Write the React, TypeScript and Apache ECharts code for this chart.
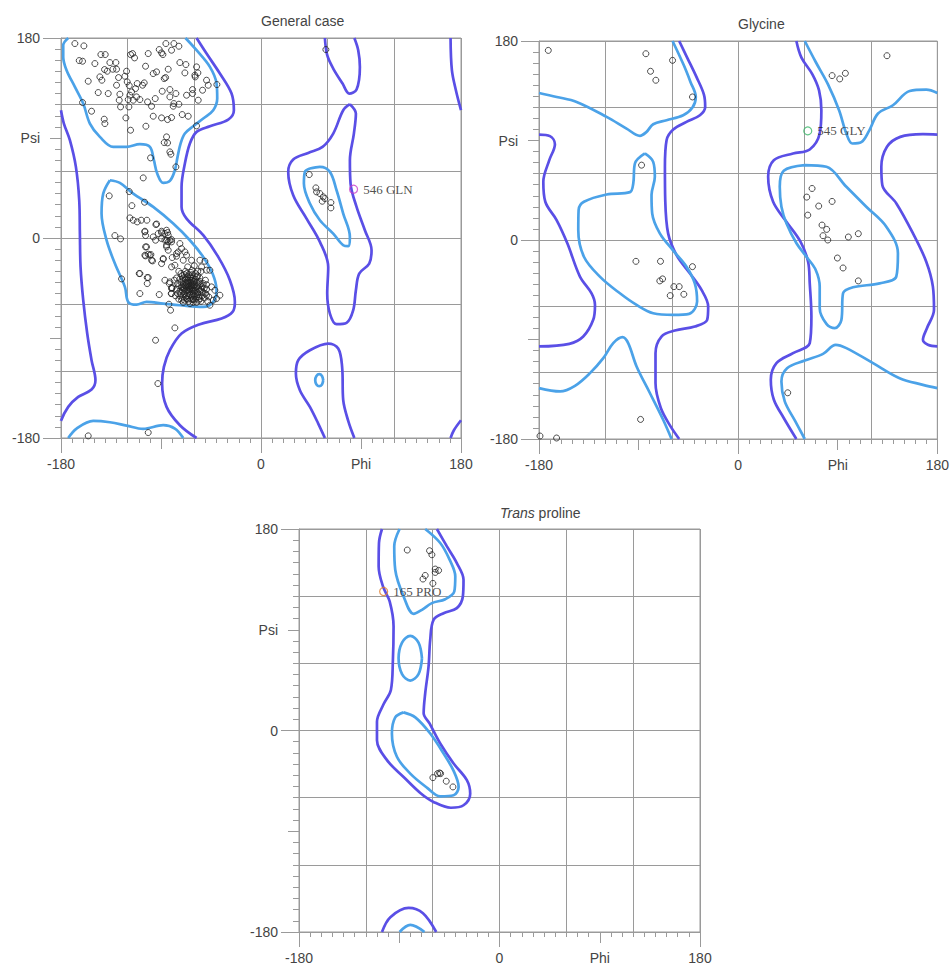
import React, { useEffect, useRef } from "react";
import * as echarts from "echarts";

// ---------- scatter data (phi, psi) ----------
const generalPoints: number[][] = [
  [-167.5,175],[-159.4,172.9],[-163.6,159.7],[-160.6,159.1],[-144.1,165.1],[-140.2,165.1],[-149.5,157],[-136,157.9],[-130.6,157.9],[-155.5,141.1],[-145,145],[-143.2,142],[-140.8,151.6],[-138.4,150.1],[-133.3,151.9],[-130,151.9],[-117.4,165.1],[-115.6,166],[-113.8,162.1],[-101.5,166],[-91.6,169.6],[-89.5,166.6],[-85.6,175],[-78.4,175],[-73.9,172.6],[-80.5,169],[-88.3,165.1],[-103.9,154.6],[-94,149.5],[-97,148],[-87.1,143.5],[-85.9,144.4],[-83.5,151.9],[-73,157.9],[-67.6,156.1],[-68.5,148.6],[-58,154],[-59.2,145],[-56.8,148.6],[-59.5,146.5],[-49,142],[-39.7,138.1],[-47.5,137.5],[-52.6,133],[-61.6,133.6],[-61.6,130],[-56.5,124],[-67,128.5],[-76.6,130],[-82,133.6],[-82,127],[-78.4,121],[-73.9,120.4],[-79,118.6],[-70.9,111.1],[-65.5,109.6],[-88.9,132.1],[-95.2,125.5],[-98.5,118.6],[-102.1,122.5],[-109,124.6],[-112,127],[-112.9,134.5],[-106.6,137.5],[-105.1,139.6],[-111.4,139],[-118.6,137.2],[-120.4,140.5],[-122.5,145.6],[-121,150.1],[-128.2,144.4],[-130,137.5],[-127,129.4],[-127.6,124],[-126.4,118],[-118.9,118],[-119.5,124.6],[-115,124],[-118,128.5],[-116.5,131.5],[-137.5,130],[-146.5,130.9],[-160.6,121.9],[-152.5,114.1],[-141.1,106.9],[-140.5,103],[-121.6,108.1],[-117.4,97],[-103.6,100.6],[-97,109.6],[-89.5,108.1],[-84.1,106.6],[-80.5,108.4],[-58,100.9],[-85,91],[-87.1,85.9],[-84.1,85.6],[-82,77.5],[-81.1,75.4],[-99.4,72.1],[-76.6,64],[-106,54.1],[-118.6,41.8],[-136.6,37.9],[-116.2,29.1],[-104.8,32.2],[-118,18.1],[-115,16],[-111.4,14.5],[-107.8,16],[-102.7,16],[-94.6,12.1],[-104.5,6.1],[-103.9,2.2],[-89.5,6.1],[-84.1,4.9],[-80.5,-1.4],[-131.5,2.2],[-126.4,-0.8],[-94.9,-2],[-85,-2],[-103.9,-8],[-85,-8],[-103.9,-16.1],[-99.1,-14.9],[-97.6,-20.6],[-88,-19.1],[-79.9,-17.6],[-76,-14],[-109,-32],[-102.4,-35.6],[-102.4,-41],[-125.5,-36.8],[-109,-50],[-91.6,-50.9],[-82.6,-41],[-80.2,-44.6],[-80.8,-50],[-82.9,-59.6],[-81.4,-65],[-77.5,-80.9],[-94.9,-92],[-92.8,-131],[-155.5,-178.1],[-101.5,-175.1],[58.4,169.6],
  [43.4,57.1],[49.4,45.1],[50,41.5],[53,40],[56,37],[55.1,33.1],[57.5,35.5],[62.9,31.9],[62.9,27.1],
  [-94,12.6],[-89.5,4.6],[-92.5,4],[-86.5,4],[-85,7],[-83.5,2.5],[-82,-2],[-83.5,-3.5],[-80.5,-3.5],[-86.5,-2],[-89.5,-0.5],[-97,1],[-85,-6.5],[-83.5,-11],[-104.5,5.5],[-103,-8],[-100,-15.5],[-98.5,-20],[-88,-18.5],[-89.5,-23],[-104.5,-15.5],[-101.5,-14.6],[-109.6,-32],[-101.5,-35.6],
];

const generalHelix: number[][] = [
  [-66,-40],[-62,-42],[-64,-38],[-60,-45],[-68,-43],[-70,-38],[-58,-40],[-63,-46],[-67,-47],[-61,-36],[-65,-33],[-72,-44],[-56,-46],[-59,-50],[-64,-51],[-69,-50],[-73,-48],[-75,-41],[-71,-34],[-68,-30],[-62,-29],[-57,-34],[-55,-39],[-53,-44],[-52,-49],[-56,-53],[-61,-55],[-66,-55],[-71,-54],[-76,-46],[-78,-38],[-74,-30],[-66,-26],[-60,-25],[-54,-30],[-50,-38],[-49,-46],[-51,-54],[-58,-58],[-64,-59],[-70,-58],[-62,-33],[-67,-36],[-63,-44],[-65,-48],[-60,-48],[-57,-43],[-69,-46],[-72,-40],[-66,-43],[-61,-39],[-59,-37],[-64,-35],[-70,-42],[-55,-48],[-62,-52],[-67,-52],[-58,-53],[-53,-52],[-50,-50],[-47,-53],[-48,-57],[-54,-57],[-77,-52],[-80,-45],[-74,-55],[-65,-44],[-63,-40],[-60,-42],[-68,-40],[-61,-47],[-57,-49],[-66,-50],[-71,-47],[-73,-37],[-69,-33],[-59,-32],[-55,-42],
  [-63,-42],[-65,-41],[-61,-43],[-67,-44],[-64,-46],[-62,-48],[-66,-38],[-60,-39],[-68,-37],[-63,-36],[-70,-45],[-58,-44],[-59,-47],[-65,-52],[-69,-48],[-72,-50],[-57,-51],[-54,-46],[-56,-40],[-61,-51],[-67,-41],[-64,-43],[-62,-45],[-66,-47],[-60,-52],[-63,-55],[-68,-53],[-71,-44],[-74,-43],[-58,-35],[-62,-38],[-66,-35],[-70,-36],[-55,-36],[-52,-41],[-51,-45],[-53,-48],[-49,-42],[-75,-50],[-73,-52],[-59,-55],[-56,-56],[-65,-57],[-69,-56],[-61,-58],[-63,-31],[-67,-32],[-57,-30],[-72,-32],[-76,-36],
  [-73,-5],[-71.5,-9.5],[-74.5,-12.5],[-68.5,-12.5],[-67,-15.5],[-76,-16.4],[-70,-20],[-62.5,-20],[-55,-20],[-50.5,-20.9],[-77.5,-24.5],[-80.5,-26],[-53.5,-26],[-49,-29],[-46,-29],[-86.5,-38],[-82,-39.5],[-80.5,-45.5],[-80.5,-50],[-71.5,-56],[-67,-54.5],[-61,-55.4],[-55,-54.5],[-49,-51.5],[-46,-60.5],[-43,-56],[-37,-51.5],[-40,-54.5],[-44.5,-44],[-41.5,-47],
];

const glycinePoints: number[][] = [
  [-171.6,171.5],[-83.4,168.5],[-59.3,162.5],[-79.2,152.6],[-74.4,144.5],[-41.3,129.4],[-87.3,67.7],[-92.4,-19.3],[-70.2,-19.3],[-41.3,-24.1],[-70.8,-37],[-68.3,-35.2],[-58.1,-42.2],[-53.3,-42.2],[-61.4,-50.3],[-49.1,-49.1],[-88.2,-162.3],[-179.1,-177.3],[-164.1,-179.1],
  [84.9,148.7],[91.8,145.7],[96.9,150.8],[134.5,166.7],[66.8,46.6],[62,38.8],[84.9,34.9],[72.8,30.7],[62.9,22.5],[75.8,13.5],[80,9.6],[76.7,3.9],[81,0],[99.6,2.7],[108.6,5.7],[89.7,-16.3],[94.8,-25.3],[108.6,-37],[44.8,-138.2],
];

const prolinePoints: number[][] = [
  [-82.8,161.2],[-62.8,160.6],[-60.7,157],[-57.7,144.2],[-54.7,143],[-57.7,141.2],[-66.7,138.5],[-68.7,135.3],[-59.8,131.4],
  [-59.8,-42.1],[-55.6,-38.5],[-53.8,-37.9],[-52.9,-38.5],[-47.8,-45.3],[-41.8,-50.4],
];

const generalFlag = { value: [83.3, 43.9], name: "546 GLN" };
const glycineFlag = { value: [62.9, 98.7], name: "545 GLY" };
const prolineFlag = { value: [-104, 124.2], name: "165 PRO" };

// ---------- contour lines (phi, psi) ----------
// General case
const genFavBeta = [[-173.5,180],[-178,173.5],[-178,163],[-175,151],[-167.5,136],[-160,121],[-154,103],[-145,91],[-133,82],[-121,82],[-109,84.4],[-100,82],[-96.4,70],[-93.4,58],[-88,49.6],[-82,51.4],[-77.5,61],[-75.1,73],[-72.4,85],[-68.5,94],[-61,100.6],[-52,107.5],[-43,115],[-39.4,125.5],[-40,139],[-46,154],[-58,169],[-68,180]];
const genFavAlpha = [[-136,52],[-142,40],[-143.5,22],[-139,-2],[-131.5,-23],[-122.5,-44],[-119.5,-57.5],[-112,-60],[-103,-57.5],[-88,-59],[-73,-60.5],[-52,-62],[-43,-57.5],[-40,-47],[-43.6,-32],[-52,-17],[-64,-2],[-79,13],[-97,28],[-115,40],[-127,49.6],[-136,52]];
const genFavBottom = [[-173.5,-180],[-166,-171.5],[-151,-164.6],[-136,-165.8],[-121,-168.8],[-106,-171.8],[-88,-168.5],[-77.5,-171.5],[-70,-180]];
const genFavLalpha = [[44,62.5],[53,64],[62,59.5],[68,43],[74,22],[80,1],[78.5,-7.4],[74,-6.5],[65,4],[53,16],[44,31],[38.6,49],[39.5,59.5],[44,62.5]];
const genFavSmall = [[56,-128],[54.9,-124.2],[52.4,-122.6],[49.9,-124.2],[48.8,-128],[49.9,-131.8],[52.4,-133.4],[54.9,-131.8],[56,-128]];
const genAllowMain = [[-58,180],[-49,166],[-37,148],[-26.5,130],[-24.4,115],[-29.5,106.6],[-46,100.6],[-58,95.5],[-64,85],[-68.5,67],[-71.5,46],[-71.5,28],[-67,17.5],[-52,2.5],[-38.5,-17],[-28,-38],[-23.5,-57.5],[-25.6,-66.5],[-35.5,-72.5],[-55,-77.6],[-71.5,-86],[-82,-101],[-87.4,-116],[-89,-131],[-85,-152],[-73,-168.5],[-58,-180]];
const genAllowLeft = [[-180,115],[-177.4,103],[-172,88],[-166.6,64],[-163.6,34],[-163,4],[-162.4,-26],[-160,-56],[-156.4,-86],[-152.5,-110],[-149,-128],[-152.5,-136.4],[-164.5,-143],[-173.5,-152],[-180,-164.6]];
const genAllowRightTop = [[170.6,180],[171.8,151],[175.4,133],[180,115]];
const genAllowRightBottom = [[180,-164],[173.6,-173],[170.6,-180]];
const genAllowLTop = [[57.5,180],[59.6,164.5],[65,152.5],[73.4,139],[79.4,130],[86,133.6],[89,154],[87.5,169],[84,180]];
const genAllowLMid = [[80,120.4],[85.4,112],[83.6,94],[80,70],[80.6,49],[86,28],[93.5,7],[99.5,-11],[97.4,-23],[88.4,-32],[85.4,-47],[83,-65],[77,-76.4],[68,-77.6],[62,-68],[59.6,-50],[60.5,-26],[53,-3.5],[41,17.5],[29,38.5],[24.5,59.5],[29,70.6],[42.5,76.6],[55.4,82],[65,94],[74,115],[80,120.4]];
const genAllowLBottom = [[57.5,-180],[51.5,-167],[44,-152],[35,-137],[31.4,-122],[33.5,-110],[44,-101],[60.5,-95],[69.5,-99.5],[73,-116],[74,-146],[78.5,-164.6],[84,-180]];

// Glycine
const glyFavTopLeft = [[-180,133],[-164,129.4],[-146,124.9],[-118.9,111.4],[-100.9,100.8],[-88.8,94.2],[-82.8,97.8],[-76.8,104.7],[-64.7,108.3],[-49.7,112.9],[-41.3,119.8],[-38.3,129.4],[-43.1,143],[-49.1,158],[-59.3,180]];
const glyAllowLeftCol = [[-53.3,180],[-46.1,165],[-37.7,147.5],[-31,131.8],[-29.8,120.4],[-34.6,112.9],[-46.7,106.8],[-58.7,99.9],[-64.7,90.3],[-66.2,66.2],[-65.9,36.1],[-63.3,6],[-55.7,-13.6],[-43.7,-30.1],[-33.1,-45.2],[-27.1,-60.2],[-28,-72.3],[-39.2,-78.3],[-57.2,-81.9],[-69.3,-87.3],[-74.7,-102.4],[-74.7,-129.4],[-69.9,-152],[-61.1,-168.6],[-53.3,-180]];
const glyFavMidLeft = [[-84.3,78.3],[-76.8,70.7],[-75.3,57.2],[-78.3,40.6],[-77.7,24.1],[-70.8,6],[-58.7,-9.6],[-46.7,-24.1],[-39.2,-39.2],[-37.1,-55.7],[-44.3,-66.8],[-58.7,-67.7],[-76.8,-66.2],[-91.8,-58.7],[-106.9,-48.2],[-125,-33.1],[-139.4,-15.1],[-144.5,9],[-144.2,27.1],[-139.4,34.6],[-118.9,41.2],[-97.8,43.3],[-94.8,51.2],[-93.3,69.2],[-84.3,78.3]];
const glyAllowLeftEdge = [[-180,95.4],[-170.1,93.9],[-165.6,86.7],[-170.7,72.2],[-176.1,52.7],[-174.3,34.6],[-164.1,18],[-154.4,-3],[-143,-33.1],[-132.5,-48.2],[-129.4,-58.7],[-131,-72.2],[-140,-87.3],[-152.6,-93.9],[-180,-96.3]];
const glyFavBottomLeft = [[-180,-134],[-161,-137],[-147.5,-131.9],[-133.9,-120.4],[-121.9,-106.9],[-112.9,-93.3],[-104.5,-87.9],[-99.4,-93.3],[-91.8,-114.4],[-79.8,-138.4],[-67.8,-162.6],[-60.2,-180]];
const glyAllowRightCol = [[52.6,180],[57.2,165],[67.1,149.9],[73.1,135.4],[75.2,117.4],[73.7,96.3],[64.7,81.9],[49.6,78.2],[32.2,72.2],[27.1,57.2],[31.6,34.6],[43.6,16.5],[56.3,-1.5],[63.2,-19.6],[64.7,-39.2],[66.2,-69.3],[64.7,-93.3],[49.6,-102.4],[34.6,-111.4],[29.5,-126.4],[32.2,-144.3],[41.2,-161],[52.6,-180]];
const glyFavTopRight = [[60.2,180],[70.1,161],[81.2,140.8],[91.2,117.4],[97.8,96.3],[103.2,87.3],[111.3,88.5],[118.3,98.7],[126.4,114.4],[139.9,121.9],[155,134.8],[170,136],[180,133]];
const glyFavMidRight = [[60.2,67.7],[79.8,66.2],[97.8,48.1],[115.8,30.1],[133.9,12],[144.4,-12],[142.9,-33.1],[127.9,-39.2],[103.8,-42.8],[94.8,-48.2],[93.3,-72.3],[87.3,-79.8],[79.8,-75.9],[73.7,-61.7],[73.7,-42.2],[70.1,-27.1],[61.7,-15.1],[52.7,-3],[43.6,15.1],[39.1,30.1],[37.6,48.1],[41.2,62.6],[60.2,67.7]];
const glyAllowRightEdge = [[180,95.4],[167,95.7],[146.5,93.3],[134.5,84.3],[129.4,66.2],[130.3,49.6],[143,33.1],[158,6],[170,-19.6],[176,-42.2],[177,-63.2],[170.6,-79.8],[167,-90.3],[171.5,-94.8],[180,-96.3]];
const glyFavBottomRight = [[60.2,-180],[51.2,-163.2],[42.1,-146],[39.1,-128],[44.2,-115.9],[60.2,-109],[76.7,-103],[88.2,-94.8],[97.8,-97.8],[121.9,-111.4],[145.9,-125],[167,-131],[180,-134]];

// Trans proline
const proAllowMain = [[-105.5,180],[-108.2,167.5],[-108.5,146.6],[-104.6,128.7],[-98.6,115.3],[-95.1,92.9],[-95.7,63],[-97.5,36.2],[-104,23.6],[-110,7.8],[-110,-8.6],[-101,-26.5],[-86.1,-41.5],[-71.1,-55.8],[-59.2,-63.8],[-43.6,-69],[-32.3,-66.8],[-26.3,-56.4],[-29.3,-44.4],[-41.2,-29.5],[-53.2,-11.6],[-62.8,6.3],[-68.1,15.3],[-66.7,33.2],[-63.7,57.1],[-62.2,80.9],[-59.2,98.8],[-50.2,104.8],[-38.3,109.3],[-32.9,119.7],[-32.3,134.7],[-38.3,149.6],[-47.2,164.5],[-56.2,180]];
const proFavTop = [[-89.7,180],[-94.5,164.5],[-93.6,143.6],[-86.1,119.7],[-77.1,104.2],[-69.6,107.8],[-60.7,113.8],[-48.7,117.3],[-40.6,124.2],[-39.7,137.6],[-44.8,152.6],[-53.2,167.5],[-66.7,180]];
const proFavMid = [[-69.6,64.5],[-72.7,78.6],[-80.1,84.5],[-87.5,78.6],[-90.6,64.5],[-87.5,50.4],[-80.1,44.5],[-72.7,50.4],[-69.6,64.5]];
const proFavAlpha = [[-86.1,16.2],[-75.6,11.7],[-62.2,-2.7],[-50.2,-20.6],[-41.2,-36.1],[-36.7,-50.4],[-41.2,-57.9],[-53.2,-58.8],[-65.2,-51],[-80.1,-38.5],[-92.1,-23.5],[-96.6,-2.6],[-93.6,11.7],[-86.1,16.2]];
const proAllowBottom = [[-105.5,-180],[-98,-166.8],[-81.6,-158.5],[-68.7,-163.2],[-56.8,-180]];
const proFavBottom = [[-89.7,-180],[-80.1,-173.7],[-67.3,-180]];

// ---------- axis tick labels ----------
const phiLabels: Record<number, string> = { [-180]: "-180", 0: "0", 90: "Phi", 180: "180" };
const psiLabels: Record<number, string> = { 180: "180", 90: "Psi", 0: "0", [-180]: "-180" };
const titles = ["General case", "Glycine", "{i|Trans} proline"];

const DARK = "#5a4fe6";
const LIGHT = "#4ba2e8";
const GRID_C = "#9a9a9a";
const TEXT_C = "#444";

const grids = [
  { left: 61, top: 38, width: 400, height: 400 },
  { left: 539, top: 41, width: 399, height: 398 },
  { left: 299, top: 529, width: 401, height: 403 },
];

function makeAxes(dim: "x" | "y", gi: number) {
  const pos = dim === "x" ? "bottom" : "left";
  const labels = dim === "x" ? phiLabels : psiLabels;
  const base = { type: "value", gridIndex: gi, min: -180, max: 180, position: pos };
  return [
    {
      ...base,
      interval: 60,
      axisLine: { show: true, onZero: false, lineStyle: { color: GRID_C } },
      axisTick: { show: true, length: dim === "x" ? 5 : 6, lineStyle: { color: GRID_C } },
      minorTick: { show: true, splitNumber: 6, length: dim === "x" ? 5 : 6, lineStyle: { color: GRID_C } },
      axisLabel: { show: false },
      splitLine: { show: true, lineStyle: { color: GRID_C, width: 1 } },
    },
    {
      ...base,
      interval: 90,
      axisLine: { show: false, onZero: false },
      axisTick: { show: true, length: 11, lineStyle: { color: GRID_C } },
      axisLabel: {
        show: true,
        margin: dim === "x" ? 19 : 21,
        showMinLabel: true,
        showMaxLabel: true,
        color: TEXT_C,
        fontSize: 14,
        fontFamily: "Liberation Sans",
        formatter: (v: number) => labels[v] ?? "",
      },
      splitLine: { show: false },
    },
    {
      ...base,
      interval: 180,
      axisLine: { show: false, onZero: false },
      axisTick: { show: true, length: dim === "x" ? 15 : 18, lineStyle: { color: GRID_C } },
      axisLabel: { show: false },
      splitLine: { show: false },
    },
  ];
}

function contour(data: number[][], color: string, gi: number) {
  return {
    type: "line",
    xAxisIndex: gi * 3,
    yAxisIndex: gi * 3,
    data,
    smooth: 0.35,
    symbol: "none",
    silent: true,
    clip: true,
    z: 2,
    lineStyle: { color, width: 2.7 },
  };
}

function dots(data: number[][], gi: number) {
  return {
    type: "scatter",
    xAxisIndex: gi * 3,
    yAxisIndex: gi * 3,
    data,
    symbol: "circle",
    symbolSize: 6,
    silent: true,
    z: 3,
    itemStyle: { color: "rgba(0,0,0,0)", borderColor: "#222", borderWidth: 1 },
  };
}

function flag(item: { value: number[]; name: string }, color: string, gi: number) {
  return {
    type: "scatter",
    xAxisIndex: gi * 3,
    yAxisIndex: gi * 3,
    data: [item],
    symbol: "circle",
    symbolSize: 8,
    silent: true,
    z: 4,
    itemStyle: { color: "rgba(0,0,0,0)", borderColor: color, borderWidth: 1.2 },
    label: {
      show: true,
      position: "right",
      distance: 5,
      formatter: "{b}",
      fontFamily: "Liberation Serif",
      fontSize: 13,
      color: "#222",
    },
  };
}

export default function App() {
  const ref = useRef<HTMLDivElement>(null);
  useEffect(() => {
    if (!ref.current) return;
    const chart = echarts.init(ref.current, null, { renderer: "svg" });
    const xAxis: any[] = [];
    const yAxis: any[] = [];
    for (let g = 0; g < 3; g++) {
      xAxis.push(...makeAxes("x", g));
      yAxis.push(...makeAxes("y", g));
    }
    const titleTops = [14, 17, 506];
    const titleLefts = [261, 738, 500];
    const option: any = {
      animation: false,
      backgroundColor: "#fff",
      title: titles.map((t, i) => ({
        text: t,
        left: titleLefts[i],
        top: titleTops[i],
        padding: 0,
        textStyle: {
          fontSize: 14,
          fontWeight: "normal",
          color: TEXT_C,
          fontFamily: "Liberation Sans",
          rich: { i: { fontStyle: "italic", fontSize: 14, color: TEXT_C, fontFamily: "Liberation Sans" } },
        },
      })),
      grid: grids.map((g) => ({ ...g, show: true, borderColor: GRID_C, borderWidth: 1, containLabel: false })),
      xAxis,
      yAxis,
      series: [
        contour(genAllowMain, DARK, 0),
        contour(genAllowLeft, DARK, 0),
        contour(genAllowRightTop, DARK, 0),
        contour(genAllowRightBottom, DARK, 0),
        contour(genAllowLTop, DARK, 0),
        contour(genAllowLMid, DARK, 0),
        contour(genAllowLBottom, DARK, 0),
        contour(genFavBeta, LIGHT, 0),
        contour(genFavAlpha, LIGHT, 0),
        contour(genFavBottom, LIGHT, 0),
        contour(genFavLalpha, LIGHT, 0),
        contour(genFavSmall, LIGHT, 0),
        dots(generalPoints, 0),
        dots(generalHelix, 0),
        flag(generalFlag, "#c83cc8", 0),

        contour(glyAllowLeftCol, DARK, 1),
        contour(glyAllowLeftEdge, DARK, 1),
        contour(glyAllowRightCol, DARK, 1),
        contour(glyAllowRightEdge, DARK, 1),
        contour(glyFavTopLeft, LIGHT, 1),
        contour(glyFavMidLeft, LIGHT, 1),
        contour(glyFavBottomLeft, LIGHT, 1),
        contour(glyFavTopRight, LIGHT, 1),
        contour(glyFavMidRight, LIGHT, 1),
        contour(glyFavBottomRight, LIGHT, 1),
        dots(glycinePoints, 1),
        flag(glycineFlag, "#3cb86a", 1),

        contour(proAllowMain, DARK, 2),
        contour(proAllowBottom, DARK, 2),
        contour(proFavTop, LIGHT, 2),
        contour(proFavMid, LIGHT, 2),
        contour(proFavAlpha, LIGHT, 2),
        contour(proFavBottom, LIGHT, 2),
        dots(prolinePoints, 2),
        flag(prolineFlag, "#e07a2a", 2),
      ],
    };
    chart.setOption(option);
    return () => chart.dispose();
  }, []);
  return (
    <div
      ref={ref}
      style={{ position: "absolute", left: 0, top: 0, width: 952, height: 965, background: "#fff" }}
    />
  );
}
